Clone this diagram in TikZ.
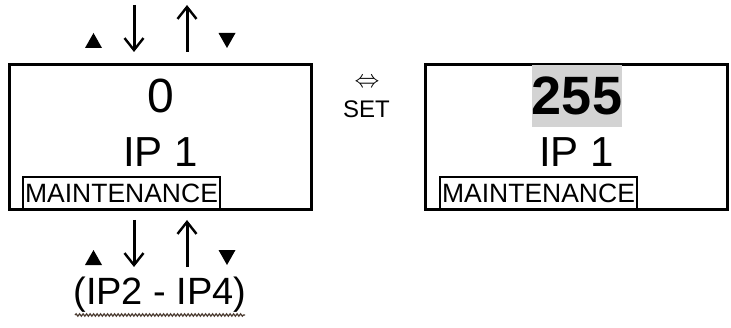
\documentclass[tikz,border=0pt]{standalone}
\usepackage{fontspec}
\setmainfont{Liberation Sans}
\usetikzlibrary{arrows.meta,decorations.pathmorphing}
\definecolor{HiliteGrey}{HTML}{D3D3D3}
\definecolor{SpellMark}{HTML}{4A3A30}

\begin{document}
\begin{tikzpicture}[x=1pt, y=1pt,
  display/.style={
    draw, line width=3pt, minimum width=302pt, minimum height=145pt,
    outer sep=0pt
  },
  value/.style={font=\fontsize{48}{48}\selectfont, inner sep=0pt, anchor=base},
  bigvalue/.style={
    font=\fontsize{54}{54}\selectfont\bfseries, fill=HiliteGrey,
    inner sep=0pt, minimum width=90pt, minimum height=62pt
  },
  channel/.style={font=\fontsize{42}{42}\selectfont, inner sep=0pt, anchor=base},
  mode/.style={
    draw, line width=2.2pt, font=\fontsize{26.5}{26.5}\selectfont,
    inner xsep=2pt, inner ysep=0pt, minimum height=33pt
  },
  key/.style={line width=3pt,
    -{Straight Barb[length=12pt,width=19pt,line width=2.4pt]}},
  lbl/.style={font=\fontsize{24}{24}\selectfont, inner sep=0pt, anchor=base}
]
\useasboundingbox (0,0) rectangle (731,327);

% Left display -- browsing
\node[display] (lcd) at (160.5,189.5) {};
\node[value] (lval) at (160.5,214) {0};
\node[channel] (lip) at (160.5,160) {IP 1};
\node[mode] (ltag) at (121.5,133.5) {MAINTENANCE};

% Right display -- editing
\node[display] (rcd) at (576.5,189.5) {};
\node[bigvalue] (rval) at (577,231) {255};
\node[channel] (rip) at (576.5,160) {IP 1};
\node[mode] (rtag) at (538.5,133.5) {MAINTENANCE};

% Toggle between the two
\node[inner sep=0pt, font=\fontsize{25}{25}\selectfont] (swap) at (367,244.5)
  {$\Leftrightarrow$};
\node[lbl] (set) at (366.5,209) {SET};

% Up/down keys above and below
\foreach \yt/\yb in {322/275, 107/60} {
  \draw[key] (134,\yt) -- (134,\yb);
  \draw[key] (187,\yb) -- (187,\yt);
}
\foreach \yb in {279, 62} {
  \fill (85,\yb) -- (102,\yb) -- (93.5,\yb+15) -- cycle;
  \fill (218.5,\yb+15) -- (235.5,\yb+15) -- (227,\yb) -- cycle;
}

% Remaining channels
\node[font=\fontsize{38}{38}\selectfont, inner sep=0pt, anchor=base] (more)
  at (160,23) {(IP2 - IP4)};
\draw[SpellMark, line width=1.2pt,
  decorate, decoration={snake, amplitude=1.2pt, segment length=3.5pt}]
  (75,12) -- (245,12);

\end{tikzpicture}
\end{document}
